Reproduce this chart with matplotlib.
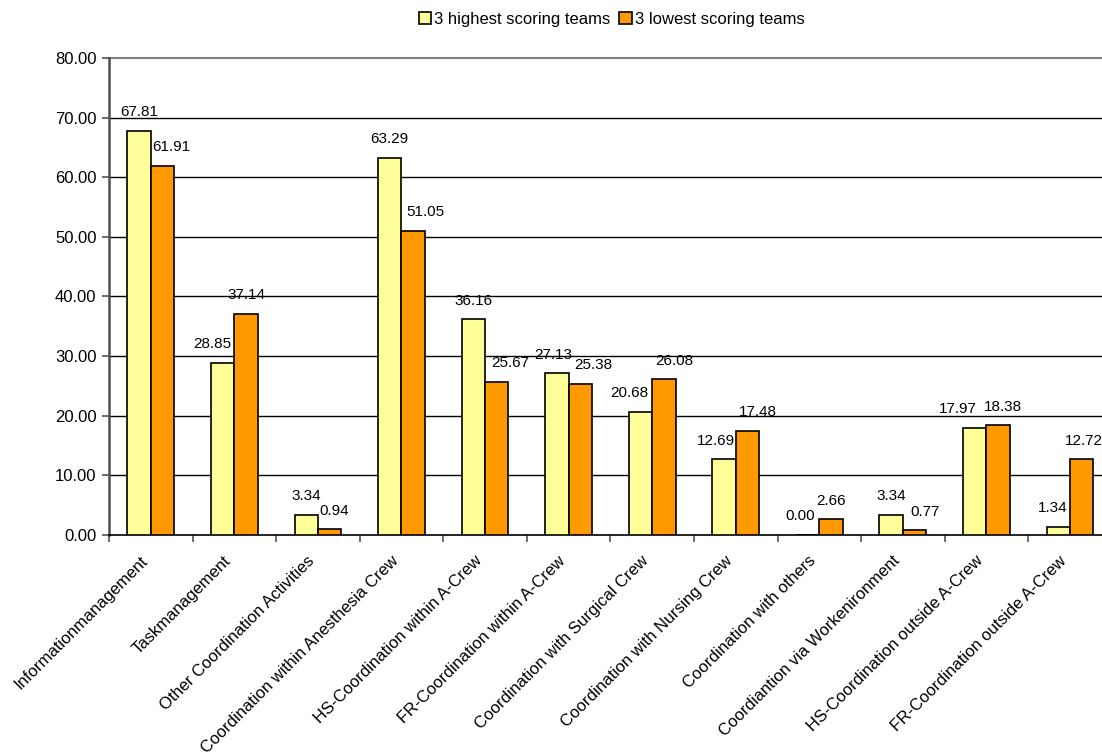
import numpy as np
import matplotlib.pyplot as plt
import matplotlib.transforms as mtransforms

# data
categories = [
    "Informationmanagement", "Taskmanagement", "Other Coordination Activities",
    "Coordination within Anesthesia Crew", "HS-Coordination within A-Crew",
    "FR-Coordination within A-Crew", "Coordination with Surgical Crew",
    "Coordination with Nursing Crew", "Coordination with others",
    "Coordiantion via Workenironment", "HS-Coordination outside A-Crew",
    "FR-Coordination outside A-Crew",
]
highest = [67.81, 28.85, 3.34, 63.29, 36.16, 27.13, 20.68, 12.69, 0.00, 3.34, 17.97, 1.34]
lowest = [61.91, 37.14, 0.94, 51.05, 25.67, 25.38, 26.08, 17.48, 2.66, 0.77, 18.38, 12.72]

# horizontal nudges of value labels (px), like the original spreadsheet layout
dx_high = [0, -10, 0, 0, 0, -4, -11, -8, -7, 0, -17, -6]
dx_low = [9, 0, 5, 12, 14, 13, 10, 10, 0, 10, 5, 2]

plt.rcParams['font.family'] = ['Liberation Sans', 'DejaVu Sans']

fig = plt.figure(figsize=(11.02, 7.54), dpi=100)
ax = fig.add_axes([0.0989, 0.2905, 0.910, 0.6326])

x = np.arange(len(categories))
w = 0.28
b1 = ax.bar(x - w / 2, highest, w, color="#FFFF99", edgecolor="black", linewidth=1.2,
            label="3 highest scoring teams", zorder=3)
b2 = ax.bar(x + w / 2, lowest, w, color="#FF9900", edgecolor="black", linewidth=1.2,
            label="3 lowest scoring teams", zorder=3)

for xs, vals, dxs in ((x - w / 2, highest, dx_high), (x + w / 2, lowest, dx_low)):
    for xi, v, d in zip(xs, vals, dxs):
        ax.annotate(f"{v:.2f}", (xi, v), xytext=(d * 0.72, 10.5), textcoords="offset points",
                    ha="center", va="baseline", fontsize=11, annotation_clip=False)

ax.set_xlim(-0.5, len(categories) - 0.5)
ax.set_ylim(0, 80)
yt = np.arange(0, 81, 10)
ax.set_yticks(yt)
ax.set_yticklabels([f"{v:.2f}" for v in yt], fontsize=12)
for v in yt[1:-1]:
    ax.axhline(v, color="black", linewidth=1, zorder=0)
ax.axhline(80, color="#808080", linewidth=1.5, zorder=0, clip_on=False)

ax.set_xticks(x)
ax.set_xticklabels(categories, rotation=45, ha="right", rotation_mode="anchor", fontsize=12)
ax.tick_params(axis="x", length=0, pad=13)
shift = mtransforms.ScaledTranslation(-11 / 100, 0, fig.dpi_scale_trans)
for lbl in ax.get_xticklabels():
    lbl.set_transform(lbl.get_transform() + shift)
ax.set_xticks(np.arange(-0.5, len(categories), 1), minor=True)
ax.tick_params(axis="x", which="minor", length=5, color="#555555", width=1.2)
ax.tick_params(axis="y", length=5, color="#555555", width=1.2, pad=4)

for s in ("top", "right"):
    ax.spines[s].set_visible(False)
ax.spines["left"].set_color("#505050")
ax.spines["left"].set_linewidth(1.8)
ax.spines["bottom"].set_color("black")
ax.spines["bottom"].set_linewidth(1.2)

fig.legend(loc="upper center", bbox_to_anchor=(0.555, 1.004), ncol=2, frameon=False,
           fontsize=12, handlelength=0.75, handleheight=0.75, handletextpad=0.2,
           columnspacing=0.5)

plt.savefig("out.png", dpi=100)
